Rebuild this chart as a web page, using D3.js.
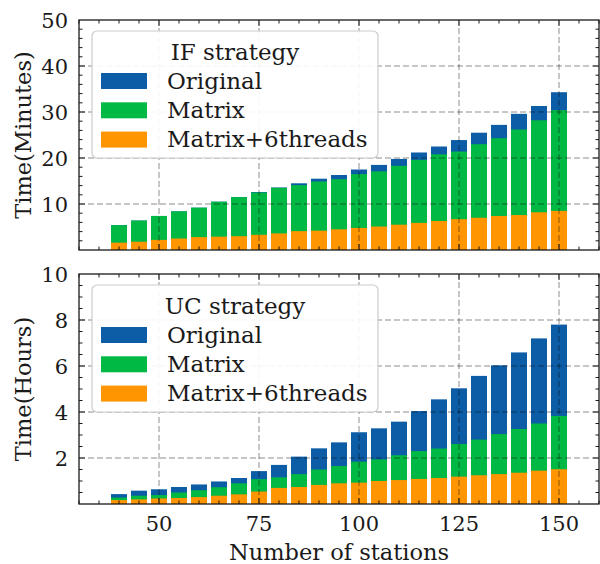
<!DOCTYPE html>
<html>
<head>
<meta charset="utf-8">
<script src="https://cdn.jsdelivr.net/npm/d3@7"></script>
<style>
  html, body { margin: 0; padding: 0; background: #fff; }
  svg { display: block; }
  text { font-family: "DejaVu Serif", serif; fill: #1a1a1a; }
</style>
</head>
<body>
<div id="chart"></div>
<script>
// Number of stations on the x axis
const stations = [40, 45, 50, 55, 60, 65, 70, 75, 80, 85, 90, 95, 100, 105, 110, 115, 120, 125, 130, 135, 140, 145, 150];

// IF strategy run time, minutes
const ifOriginal = [5.4, 6.4, 7.4, 8.4, 9.2, 10.5, 11.5, 12.6, 13.6, 14.5, 15.5, 16.3, 17.5, 18.5, 19.8, 21.2, 22.5, 23.9, 25.5, 27.2, 29.6, 31.3, 34.3];
const ifMatrix   = [5.4, 6.4, 7.4, 8.4, 9.2, 10.5, 11.5, 12.5, 13.5, 14.1, 14.9, 15.4, 16.5, 17.1, 18.3, 19.6, 20.8, 21.4, 23.0, 24.3, 26.2, 28.2, 30.4];
const ifThreads  = [1.6, 1.8, 2.2, 2.5, 2.8, 2.9, 3.0, 3.3, 3.6, 4.1, 4.2, 4.5, 4.8, 5.1, 5.5, 5.9, 6.3, 6.7, 7.0, 7.4, 7.6, 8.2, 8.5];

// UC strategy run time, hours
const ucOriginal = [0.43, 0.58, 0.64, 0.74, 0.85, 0.98, 1.13, 1.43, 1.70, 2.06, 2.42, 2.68, 3.12, 3.29, 3.58, 4.04, 4.55, 5.03, 5.57, 6.03, 6.59, 7.20, 7.80];
const ucMatrix   = [0.28, 0.36, 0.39, 0.50, 0.60, 0.73, 0.90, 1.08, 1.16, 1.30, 1.50, 1.65, 1.84, 1.94, 2.12, 2.30, 2.41, 2.61, 2.80, 3.04, 3.26, 3.50, 3.83];
const ucThreads  = [0.17, 0.20, 0.24, 0.26, 0.30, 0.36, 0.42, 0.54, 0.70, 0.74, 0.83, 0.90, 0.93, 1.00, 1.04, 1.09, 1.13, 1.19, 1.25, 1.30, 1.36, 1.45, 1.51];

const seriesNames = ["Original", "Matrix", "Matrix+6threads"];
const seriesColors = ["#0C5DA5", "#00B945", "#FF9500"];

const xTicks = [50, 75, 100, 125, 150];
const ifTicks = [10, 20, 30, 40, 50];
const ucTicks = [2, 4, 6, 8, 10];

const W = 600, H = 564;
const svg = d3.select("#chart").append("svg").attr("width", W).attr("height", H);

const x = d3.scaleLinear().domain([30, 160]).range([79, 599]);
const barW = x(34) - x(30);

function panel(cfg) {
  const y = d3.scaleLinear().domain([0, cfg.ymax]).range([cfg.bottom, cfg.top]);
  const g = svg.append("g");

  // bars, drawn back to front: original, matrix, matrix + threads
  cfg.series.forEach((vals, si) => {
    g.append("g").selectAll("rect").data(stations).join("rect")
      .attr("x", (d) => x(d) - barW / 2)
      .attr("width", barW)
      .attr("y", (d, i) => y(vals[i]))
      .attr("height", (d, i) => y(0) - y(vals[i]))
      .attr("fill", seriesColors[si]);
  });

  // dashed grid over the bars
  const grid = g.append("g").attr("stroke", "#000").attr("stroke-opacity", 0.45)
    .attr("stroke-width", 1).attr("stroke-dasharray", "6,3").attr("fill", "none");
  grid.selectAll("line.v").data(xTicks).join("line").attr("class", "v")
    .attr("x1", (d) => x(d)).attr("x2", (d) => x(d))
    .attr("y1", cfg.bottom).attr("y2", cfg.top);
  grid.selectAll("line.h").data(cfg.yTicks.filter((t) => t < cfg.ymax)).join("line").attr("class", "h")
    .attr("y1", (d) => y(d)).attr("y2", (d) => y(d))
    .attr("x1", x.range()[0]).attr("x2", x.range()[1]);

  // legend
  const lg = g.append("g").attr("transform", `translate(${x.range()[0] + 13},${cfg.top + 11})`);
  lg.append("rect").attr("width", 286).attr("height", 127).attr("rx", 5)
    .attr("fill", "#fff").attr("fill-opacity", 0.9)
    .attr("stroke", "#cccccc").attr("stroke-width", 1.2);
  lg.append("text").attr("x", 143).attr("y", 29).attr("text-anchor", "middle")
    .attr("font-size", 23).text(cfg.title);
  seriesNames.forEach((name, i) => {
    const by = 57.5 + i * 29.3;
    lg.append("rect").attr("x", 9).attr("y", by - 15.5).attr("width", 46).attr("height", 16)
      .attr("fill", seriesColors[i]);
    lg.append("text").attr("x", 75).attr("y", by).attr("font-size", 23).text(name);
  });

  // axes frame with inward ticks on all four sides
  const ax = g.append("g").attr("stroke", "#1a1a1a").attr("fill", "none");
  const xMinor = d3.range(30, 160.1, 5);
  const yMinor = d3.range(0, cfg.ymax + 1e-9, cfg.minorStep);
  const tickSet = (vals, isMajor) => vals.map((v) => ({ v, len: isMajor ? 6 : 3.5 }));
  const xT = tickSet(xMinor.filter((v) => !xTicks.includes(v)), false).concat(tickSet(xTicks, true));
  const yT = tickSet(yMinor.filter((v) => !cfg.yTicks.includes(+v.toFixed(2)) && v > 0 && v < cfg.ymax), false)
    .concat(tickSet(cfg.yTicks.filter((t) => t < cfg.ymax), true));
  xT.forEach((t) => {
    ax.append("line").attr("x1", x(t.v)).attr("x2", x(t.v)).attr("y1", cfg.bottom).attr("y2", cfg.bottom - t.len).attr("stroke-width", 1);
    ax.append("line").attr("x1", x(t.v)).attr("x2", x(t.v)).attr("y1", cfg.top).attr("y2", cfg.top + t.len).attr("stroke-width", 1);
  });
  yT.forEach((t) => {
    ax.append("line").attr("y1", y(t.v)).attr("y2", y(t.v)).attr("x1", x.range()[0]).attr("x2", x.range()[0] + t.len).attr("stroke-width", 1);
    ax.append("line").attr("y1", y(t.v)).attr("y2", y(t.v)).attr("x1", x.range()[1]).attr("x2", x.range()[1] - t.len).attr("stroke-width", 1);
  });
  ax.append("rect").attr("x", x.range()[0]).attr("y", cfg.top)
    .attr("width", x.range()[1] - x.range()[0]).attr("height", cfg.bottom - cfg.top)
    .attr("stroke-width", 1.3);

  // y tick labels
  g.append("g").selectAll("text").data(cfg.yTicks).join("text")
    .attr("x", x.range()[0] - 11).attr("y", (d) => y(d)).attr("dy", "0.36em")
    .attr("text-anchor", "end").attr("font-size", 21).text((d) => d);

  // y axis title
  g.append("text")
    .attr("transform", `translate(31,${(cfg.top + cfg.bottom) / 2}) rotate(-90)`)
    .attr("text-anchor", "middle").attr("font-size", 22.5).text(cfg.ylabel);

  if (cfg.xLabels) {
    g.append("g").selectAll("text").data(xTicks).join("text")
      .attr("x", (d) => x(d)).attr("y", cfg.bottom + 27).attr("text-anchor", "middle")
      .attr("font-size", 21).text((d) => d);
    g.append("text").attr("x", (x.range()[0] + x.range()[1]) / 2).attr("y", cfg.bottom + 56)
      .attr("text-anchor", "middle").attr("font-size", 22.5).text("Number of stations");
  }
}

panel({
  top: 20, bottom: 250, ymax: 50, yTicks: ifTicks, minorStep: 2,
  series: [ifOriginal, ifMatrix, ifThreads], title: "IF strategy", ylabel: "Time(Minutes)", xLabels: false
});
panel({
  top: 274, bottom: 504, ymax: 10, yTicks: ucTicks, minorStep: 0.5,
  series: [ucOriginal, ucMatrix, ucThreads], title: "UC strategy", ylabel: "Time(Hours)", xLabels: true
});
</script>
</body>
</html>
